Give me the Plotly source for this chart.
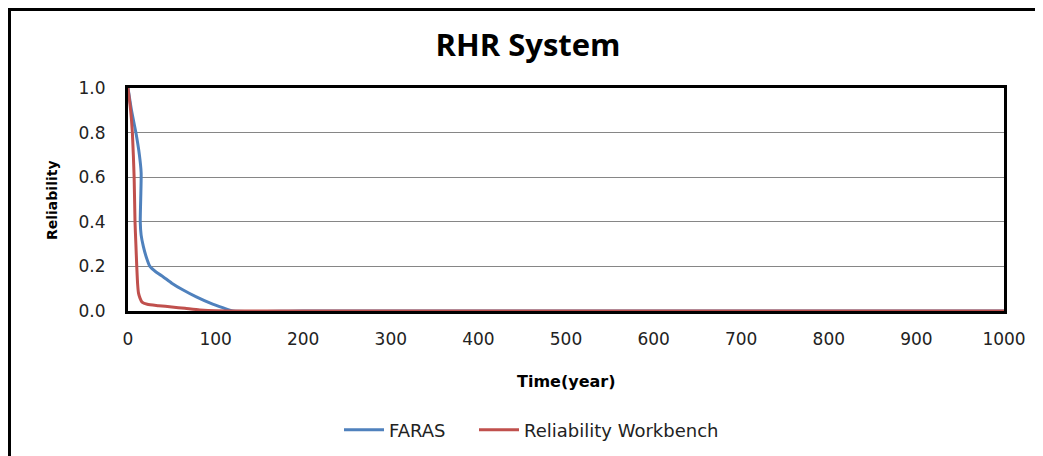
import plotly.graph_objects as go

# FARAS curve (time in years, reliability)
faras_t = [0, 4, 9, 13, 15, 14.5, 14, 15, 17.5, 21, 25, 32, 40, 50, 63, 78, 94, 108, 120, 200, 500, 1000]
faras_r = [1.0, 0.9, 0.8, 0.7, 0.62, 0.5, 0.4, 0.34, 0.29, 0.24, 0.2, 0.175, 0.154, 0.125, 0.094, 0.063, 0.035, 0.015, 0.0, 0.0, 0.0, 0.0]

# Reliability Workbench curve
rw_t = [0, 3, 5, 7, 8, 9, 10, 11, 12, 13.7, 16, 22, 35, 50, 65, 82, 100, 200, 500, 1000]
rw_r = [1.0, 0.9, 0.8, 0.6, 0.4, 0.3, 0.2, 0.12, 0.08, 0.058, 0.04, 0.03, 0.024, 0.018, 0.012, 0.005, 0.001, 0.0, 0.0, 0.0]

title_text = "RHR System"
x_title = "Time(year)"
y_title = "Reliability"

# page body has an 8px margin; work in figure pixel coords
OFF = 8
W, H = 1043 - OFF, 456 - OFF
L, R, T, B = 128 - OFF, 1004 - OFF, 88 - OFF, 311 - OFF

def px(x):
    return (x - OFF - L) / (R - L)

def py(y):
    return (B - (y - OFF)) / (B - T)

fig = go.Figure()
fig.add_trace(go.Scatter(x=faras_t, y=faras_r, mode="lines", name="FARAS", legend="legend",
                         line=dict(color="#4F81BD", width=3, shape="spline", smoothing=0.6)))
fig.add_trace(go.Scatter(x=rw_t, y=rw_r, mode="lines", name="Reliability Workbench", legend="legend2",
                         line=dict(color="#C0504D", width=3, shape="spline", smoothing=0.6)))

leg_common = dict(orientation="h", xref="container", yref="container", xanchor="left",
                  yanchor="middle", y=1 - (430 - OFF) / H,
                  font=dict(family="DejaVu Sans", size=18, color="#222"), itemwidth=40,
                  bgcolor="rgba(0,0,0,0)")

fig.update_layout(
    width=W, height=H,
    margin=dict(l=L, r=W - R, t=T, b=H - B),
    paper_bgcolor="white", plot_bgcolor="white",
    font=dict(family="DejaVu Sans", size=17, color="#222"),
    title=dict(text="<b>" + title_text + "</b>", x=(528 - OFF) / W, xanchor="center",
               y=1 - (45 - OFF) / H, yanchor="middle",
               font=dict(family="Open Sans", size=31, color="black")),
    showlegend=True,
    legend=dict(x=(339 - OFF) / W, **leg_common),
    legend2=dict(x=(474 - OFF) / W, **leg_common),
    xaxis=dict(range=[0, 1000], dtick=100, tick0=0, showgrid=False, zeroline=False,
               showline=True, linecolor="black", linewidth=3, mirror=True,
               ticks="", tickfont=dict(size=17), ticklabelstandoff=11),
    yaxis=dict(range=[0, 1.0], dtick=0.2, tick0=0, tickformat=".1f", showgrid=True,
               gridcolor="#868686", gridwidth=1, zeroline=False,
               showline=True, linecolor="black", linewidth=3, mirror=True,
               ticks="", tickfont=dict(size=17), ticklabelstandoff=16),
)

fig.add_annotation(text="<b>" + x_title + "</b>", xref="paper", yref="paper",
                   x=px(566.5), y=py(381), xanchor="center", yanchor="middle", showarrow=False,
                   font=dict(family="DejaVu Sans", size=16, color="black"))
fig.add_annotation(text="<b>" + y_title + "</b>", xref="paper", yref="paper", textangle=-90,
                   x=px(52), y=py(200), xanchor="center", yanchor="middle", showarrow=False,
                   font=dict(family="DejaVu Sans", size=14, color="black"))

# outer chart border (left and top visible)
fig.add_shape(type="line", xref="paper", yref="paper", x0=px(9), x1=px(9), y0=py(7), y1=py(480),
              line=dict(color="black", width=4))
fig.add_shape(type="line", xref="paper", yref="paper", x0=px(7), x1=px(1080), y0=py(9), y1=py(9),
              line=dict(color="black", width=4))

fig.write_html("out.html")
